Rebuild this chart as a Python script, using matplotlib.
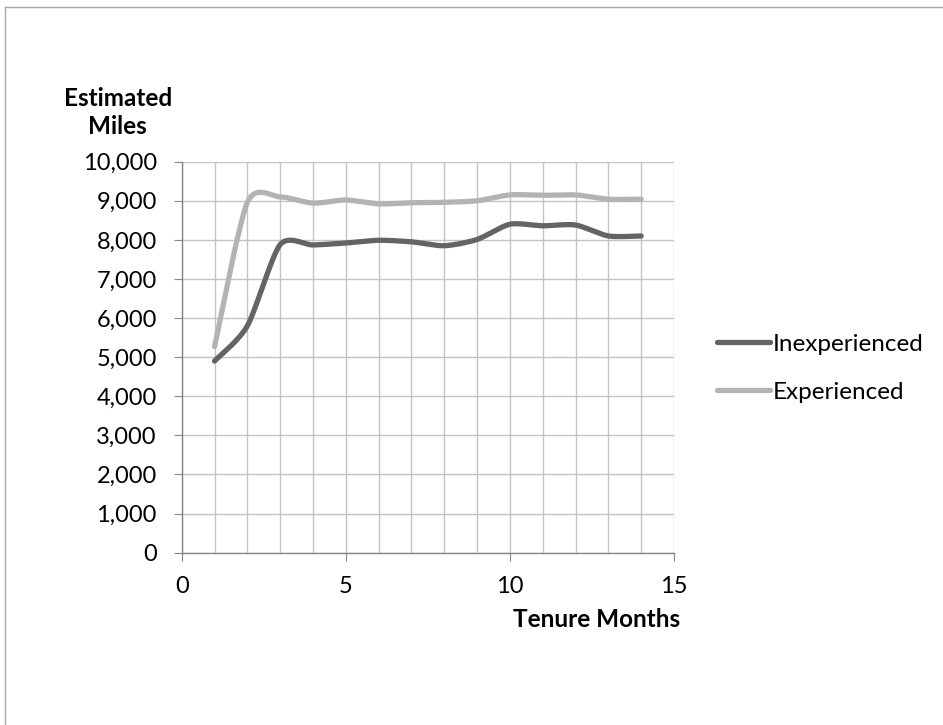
import numpy as np
import matplotlib.pyplot as plt
from matplotlib.lines import Line2D
from matplotlib.ticker import FuncFormatter, MultipleLocator

months = [1, 2, 3, 4, 5, 6, 7, 8, 9, 10, 11, 12, 13, 14]
inexperienced = [4900, 5800, 7880, 7870, 7920, 7990, 7950, 7850, 8010, 8400, 8360, 8380, 8100, 8100]
experienced = [5270, 8960, 9100, 8940, 9020, 8920, 8950, 8960, 9000, 9150, 9140, 9150, 9040, 9040]

plt.rcParams['font.family'] = ['Lato', 'DejaVu Sans']
FS = 17.5


def smooth(x, y, n=30, k=8.0):
    # excel-ish smoothed line: bezier segments through the points
    x = np.asarray(x, float)
    y = np.asarray(y, float)
    px = np.concatenate([[x[0]], x, [x[-1]]])
    py = np.concatenate([[y[0]], y, [y[-1]]])
    xs, ys = [], []
    t = np.linspace(0, 1, n)[:, None]
    for i in range(1, len(px) - 2):
        p0 = np.array([px[i], py[i]])
        p3 = np.array([px[i + 1], py[i + 1]])
        p1 = p0 + (np.array([px[i + 1], py[i + 1]]) - np.array([px[i - 1], py[i - 1]])) / k
        p2 = p3 - (np.array([px[i + 2], py[i + 2]]) - np.array([px[i], py[i]])) / k
        b = (1 - t) ** 3 * p0 + 3 * (1 - t) ** 2 * t * p1 + 3 * (1 - t) * t ** 2 * p2 + t ** 3 * p3
        xs.append(b[:, 0])
        ys.append(b[:, 1])
    return np.concatenate(xs), np.concatenate(ys)


fig = plt.figure(figsize=(9.43, 7.25), dpi=100)
ax = fig.add_axes([0.1927, 0.2377, 0.5220, 0.5393])

for data, color, name in [(inexperienced, '#646464', 'Inexperienced'),
                          (experienced, '#b3b3b3', 'Experienced')]:
    sx, sy = smooth(months, data)
    ax.plot(sx, sy, color=color, lw=3.8, solid_capstyle='round', label=name)

ax.set_xlim(0, 15)
ax.set_ylim(0, 10000)
ax.xaxis.set_major_locator(MultipleLocator(5))
ax.xaxis.set_minor_locator(MultipleLocator(1))
ax.yaxis.set_major_locator(MultipleLocator(1000))
ax.yaxis.set_major_formatter(FuncFormatter(lambda v, p: f'{int(v):,}'))

ax.grid(True, which='major', axis='y', color='#c4c4c4', lw=1)
ax.grid(True, which='both', axis='x', color='#c4c4c4', lw=1)
ax.set_axisbelow(True)

for s in ['top', 'right']:
    ax.spines[s].set_visible(False)
for s in ['left', 'bottom']:
    ax.spines[s].set_color('#868686')
    ax.spines[s].set_linewidth(1)

ax.tick_params(axis='both', which='major', direction='out', length=6, color='#868686',
               labelsize=17)
ax.tick_params(axis='y', pad=12)
ax.tick_params(axis='x', pad=11)
ax.tick_params(axis='x', which='minor', length=0)

fig.text(0.125, 0.845, 'Estimated\nMiles', ha='center', va='center', fontsize=FS,
         fontweight='bold', linespacing=1.3)
fig.text(0.721, 0.146, 'Tenure Months', ha='right', va='center', fontsize=FS,
         fontweight='bold')

ax.legend(loc='center left', bbox_to_anchor=(1.067, 0.472), frameon=False, fontsize=FS,
          handlelength=2.2, handletextpad=0.1, labelspacing=1.1, borderaxespad=0)

fig.add_artist(Line2D([0.0055, 1.0], [0.990, 0.990], transform=fig.transFigure,
                      color='#a6a6a6', lw=1))
fig.add_artist(Line2D([0.0055, 0.0055], [0.0, 0.990], transform=fig.transFigure,
                      color='#a6a6a6', lw=1))

fig.savefig('out.png', dpi=100)
